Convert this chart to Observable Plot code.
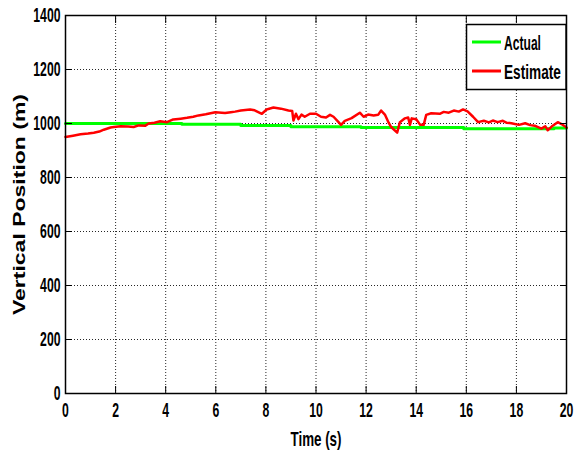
<!DOCTYPE html>
<html><head><meta charset="utf-8">
<script src="https://cdn.jsdelivr.net/npm/d3@7"></script>
<script src="https://cdn.jsdelivr.net/npm/@observablehq/plot@0.6"></script>
<style>
body{margin:0;background:#fff;}
#wrap{position:relative;width:585px;height:455px;}
</style></head><body><div id="wrap"></div>
<script>
const xTicks = [0,2,4,6,8,10,12,14,16,18,20];
const yTicks = [0,200,400,600,800,1000,1200,1400];
const seriesNames = ["Actual","Estimate"];
const seriesColors = ["#00ff00","#ff0000"];
const xLabel = "Time (s)";
const yLabel = "Vertical Position (m)";

const actualT = [0,4.65,7.0,9.0,11.8,15.9,19.5,20];
const actualV = [1000,997,993,988,985,981,983,983];

const estimateT = [0,0.3,0.6,0.9,1.13,1.35,1.53,1.8,1.93,2.2,2.5,2.72,2.92,3.19,3.32,3.55,3.78,4.05,4.3,4.6,4.85,5.1,5.31,5.6,5.98,6.37,6.6,6.77,7.0,7.37,7.55,7.84,8.03,8.3,8.6,8.9,9.05,9.1,9.2,9.3,9.42,9.55,9.76,10.0,10.2,10.4,10.56,10.7,10.9,11.0,11.15,11.42,11.75,11.9,12.08,12.3,12.48,12.6,12.75,12.9,13.0,13.24,13.35,13.55,13.68,13.75,13.82,14.0,14.16,14.3,14.4,14.6,14.94,15.1,15.3,15.5,15.7,15.87,16.05,16.27,16.47,16.7,16.9,17.06,17.25,17.46,17.6,17.8,18.1,18.35,18.55,18.73,19.0,19.15,19.25,19.45,19.65,19.8,20.0];
const estimateV = [950,955,960,963,966,970,977,985,987,990,989,987,993,992,1000,1003,1008,1005,1015,1018,1021,1025,1030,1034,1042,1039,1042,1044,1048,1052,1049,1036,1052,1059,1055,1048,1046,1011,1036,1016,1033,1025,1036,1036,1025,1022,1032,1025,1005,995,1010,1020,1040,1025,1033,1030,1032,1048,1033,1003,987,966,1005,1019,1022,995,1019,1016,995,995,1032,1038,1036,1043,1040,1048,1044,1052,1045,1025,1005,1010,1004,1011,1005,1010,1003,1001,995,1001,994,992,981,990,975,992,1005,998,985];

const actual = actualT.map((t,i)=>({t, v: actualV[i]}));
const estimate = estimateT.map((t,i)=>({t, v: estimateV[i]}));

const FONT = '"Liberation Sans Narrow","Arial Narrow","Liberation Sans",Arial,sans-serif';

const chart = Plot.plot({
  width: 585, height: 455,
  marginLeft: 65, marginRight: 19, marginTop: 15, marginBottom: 62,
  style: {fontFamily: FONT, fontSize: "21px", fontWeight: "bold", color: "#000", background: "#fff"},
  x: {domain: [0,20]},
  y: {domain: [0,1400]},
  marks: [
    Plot.gridX(xTicks, {stroke: "#000", strokeOpacity: 0.85, strokeDasharray: "1,2"}),
    Plot.gridY(yTicks, {stroke: "#000", strokeOpacity: 0.85, strokeDasharray: "1,2"}),
    Plot.line(actual, {x: "t", y: "v", stroke: seriesColors[0], strokeWidth: 3, curve: "step-after"}),
    Plot.line(estimate, {x: "t", y: "v", stroke: seriesColors[1], strokeWidth: 2.5}),
    Plot.axisX(xTicks, {anchor: "bottom", tickSize: 0, tickPadding: 9, tickFormat: d3.format("d"), label: xLabel, labelAnchor: "center", labelOffset: 52, labelArrow: "none"}),
    Plot.axisY(yTicks, {anchor: "left", tickSize: 0, tickPadding: 5, tickFormat: d3.format("d"), label: yLabel, labelAnchor: "center", labelOffset: 53, labelArrow: "none"}),
    Plot.axisX(xTicks, {anchor: "bottom", tickSize: -7, tickFormat: () => "", label: null}),
    Plot.axisX(xTicks, {anchor: "top", tickSize: -7, tickFormat: () => "", label: null}),
    Plot.axisY(yTicks, {anchor: "left", tickSize: -7, tickFormat: () => "", label: null}),
    Plot.axisY(yTicks, {anchor: "right", tickSize: -7, tickFormat: () => "", label: null}),
    Plot.frame({stroke: "#000", strokeWidth: 1.5})
  ]
});
document.getElementById("wrap").appendChild(chart);

const svg = d3.select(chart.tagName.toLowerCase() === "svg" ? chart : chart.querySelector("svg"));

// compress text horizontally like the reference
svg.selectAll("g[aria-label='x-axis tick label'] text, g[aria-label='y-axis tick label'] text").each(function(){
  const s = this.textContent.trim();
  if (s.length) { this.setAttribute("textLength", s.length * 6.8); this.setAttribute("lengthAdjust", "spacingAndGlyphs"); }
});
svg.selectAll("g[aria-label='x-axis label'] text").each(function(){
  if (this.textContent.trim().length) { this.setAttribute("textLength", 51); this.setAttribute("lengthAdjust", "spacingAndGlyphs"); }
});
svg.selectAll("g[aria-label='y-axis label'] text").each(function(){
  if (this.textContent.trim().length) {
    this.style.fontFamily = '"Liberation Sans",Arial,sans-serif';
    this.style.fontSize = "17px";
    this.setAttribute("textLength", 221); this.setAttribute("lengthAdjust", "spacingAndGlyphs");
  }
});

// legend
const lg = svg.append("g").attr("class", "legend").attr("text-anchor", "start");
lg.append("rect").attr("x", 466.5).attr("y", 24.5).attr("width", 99.5).attr("height", 65)
  .attr("fill", "#fff").attr("stroke", "#000").attr("stroke-width", 1.5);
const legendY = [42, 71];
const legendW = [37, 57];
seriesNames.forEach((name, i) => {
  lg.append("line").attr("x1", 472).attr("x2", 501).attr("y1", legendY[i]).attr("y2", legendY[i])
    .attr("stroke", seriesColors[i]).attr("stroke-width", 3);
  const g = lg.append("g");
  const t = g.append("text").attr("x", 0).attr("y", 0).attr("dy", "0.36em")
    .attr("text-anchor", "start")
    .attr("font-family", FONT).attr("font-size", 21).attr("font-weight", "bold").attr("fill", "#000")
    .text(name);
  const natural = t.node().getComputedTextLength() || legendW[i];
  g.attr("transform", `translate(504,${legendY[i]}) scale(${legendW[i] / natural},1)`);
});
</script></body></html>
